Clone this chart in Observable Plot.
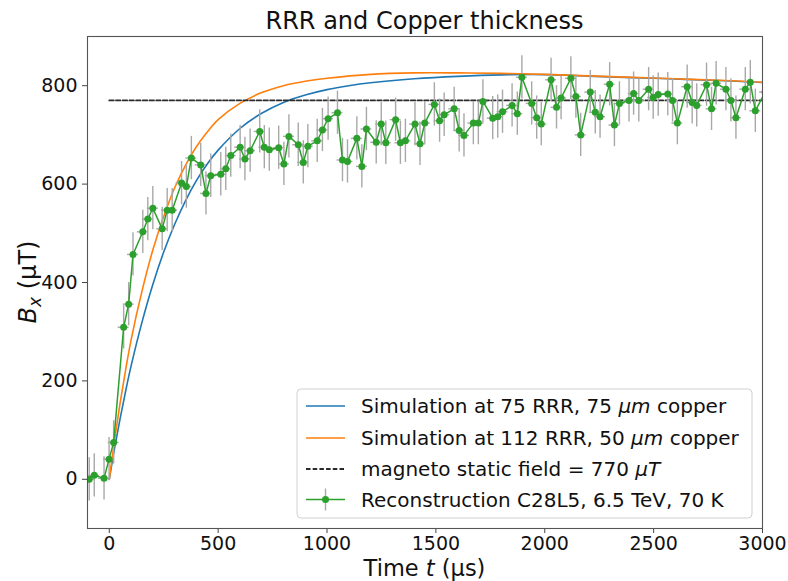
<!DOCTYPE html>
<html><head><meta charset="utf-8">
<script src="https://cdn.jsdelivr.net/npm/d3@7"></script>
<script src="https://cdn.jsdelivr.net/npm/@observablehq/plot@0.6"></script>
<style>body{margin:0;background:#fff} #chart svg{display:block}</style>
</head><body><div id="chart"></div>
<script>
// ---- data ----
const titleText = "RRR and Copper thickness";
const xTicks = [0, 500, 1000, 1500, 2000, 2500, 3000];
const yTicks = [0, 200, 400, 600, 800];

// Simulation at 75 RRR, 75 µm copper (blue)
const blueT = [0, 25, 50, 75, 100, 150, 200, 250, 300, 350, 400, 450, 500, 600, 700, 800, 900, 1000, 1100, 1200, 1400, 1600, 1800, 2000, 2200, 2400, 2600, 2800, 3000];
const blueV = [0, 65, 124, 179, 230, 319, 396, 462, 518, 566, 607, 641, 669, 713, 744, 766, 781, 792, 800, 806, 814, 819, 822, 822.5, 819.5, 816.5, 813.5, 810.5, 806.5];

// Simulation at 112 RRR, 50 µm copper (orange)
const orangeT = [0, 25, 50, 75, 100, 150, 200, 250, 300, 350, 400, 450, 500, 600, 700, 800, 900, 1000, 1200, 1400, 1600, 1800, 2000, 2200, 2400, 2600, 2800, 3000];
const orangeV = [0, 82, 156, 222, 283, 382, 466, 534, 592, 638, 676, 706, 731, 764, 786, 800, 809, 815, 823, 826, 826, 825, 823, 820, 817, 814, 811, 807];

// magneto static field
const staticField = 770;
const staticRange = [0, 3000];

// Reconstruction C28L5, 6.5 TeV, 70 K (green, with error bars)
const recoT = [-92, -69, -24, -1, 20, 66, 89, 109, 154, 177, 200, 243, 266, 289, 332, 354, 377, 420, 444, 466,
  512, 535, 558, 601, 623, 647, 691, 712, 735, 778, 802, 825, 868, 891, 912, 955, 979, 1005, 1048, 1071,
  1094, 1137, 1160, 1181, 1226, 1249, 1270, 1315, 1337, 1360, 1404, 1427, 1449, 1493, 1517, 1538, 1584, 1607, 1629, 1672,
  1695, 1716, 1761, 1784, 1806, 1850, 1874, 1895, 1940, 1963, 1984, 2029, 2054, 2075, 2120, 2143, 2165, 2209, 2232, 2254,
  2298, 2320, 2343, 2387, 2408, 2432, 2477, 2498, 2521, 2565, 2587, 2609, 2654, 2677, 2698, 2743, 2766, 2787, 2832, 2855,
  2878, 2921, 2944, 2967, 3012];
const recoV = [0, 8, 2, 41, 75, 309, 356, 457, 503, 529, 551, 509, 547, 547, 602, 595, 653, 639, 581, 617,
  620, 631, 658, 675, 651, 668, 707, 675, 670, 674, 641, 697, 680, 644, 677, 688, 710, 733, 745, 649,
  646, 693, 636, 712, 685, 722, 684, 731, 684, 688, 722, 682, 724, 762, 729, 741, 753, 709, 699, 724,
  724, 768, 734, 737, 747, 760, 743, 817, 764, 735, 722, 812, 756, 775, 815, 778, 700, 787, 746, 737,
  803, 720, 764, 770, 784, 770, 793, 776, 782, 783, 770, 724, 798, 766, 760, 802, 753, 805, 793, 770,
  735, 793, 807, 749, 787];
const recoErrV = 44;   // ± µT
const recoErrT = 25;   // ± µs

const legendLabels = [
  ["Simulation at 75 RRR, 75 ", ["µm", true], " copper"],
  ["Simulation at 112 RRR, 50 ", ["µm", true], " copper"],
  ["magneto static field = 770 ", ["µT", true]],
  ["Reconstruction C28L5, 6.5 TeV, 70 K"]
];

// ---- tables ----
const blue = blueT.map((t, i) => ({t, v: blueV[i]}));
const orange = orangeT.map((t, i) => ({t, v: orangeV[i]}));
const reco = recoT.map((t, i) => ({t, v: recoV[i]}));
const staticLine = staticRange.map(t => ({t, v: staticField}));

const C_BLUE = "#1f77b4", C_ORANGE = "#ff7f0e", C_GREEN = "#2ca02c", C_ERR = "#a8a8a8", C_DASH = "#2b2b2b";
const FONT = "'DejaVu Sans', sans-serif";

const chart = Plot.plot({
  width: 788, height: 581,
  marginLeft: 87, marginRight: 26, marginTop: 36, marginBottom: 53,
  style: {fontFamily: FONT, background: "#fff", overflow: "visible"},
  x: {domain: [-100, 3000]},
  y: {domain: [-100, 900]},
  marks: [
    Plot.axisX({ticks: xTicks, tickSize: 5, tickPadding: 3, fontSize: 19, stroke: "#444", fill: "#111", label: null, tickFormat: d3.format("d")}),
    Plot.axisY({ticks: yTicks, tickSize: 5, tickPadding: 5, fontSize: 19, stroke: "#444", fill: "#111", label: null, tickFormat: d3.format("d")}),
    Plot.line(blue, {x: "t", y: "v", stroke: C_BLUE, strokeWidth: 1.6, curve: "catmull-rom", clip: true}),
    Plot.line(orange, {x: "t", y: "v", stroke: C_ORANGE, strokeWidth: 1.6, curve: "catmull-rom", clip: true}),
    Plot.line(staticLine, {x: "t", y: "v", stroke: C_DASH, strokeWidth: 1.8, strokeDasharray: "4.5,2.2", clip: true}),
    Plot.ruleX(reco, {x: "t", y1: d => d.v - recoErrV, y2: d => d.v + recoErrV, stroke: C_ERR, strokeWidth: 1.4, clip: true}),
    Plot.ruleY(reco, {y: "v", x1: d => d.t - recoErrT, x2: d => d.t + recoErrT, stroke: C_ERR, strokeWidth: 1.4, clip: true}),
    Plot.line(reco, {x: "t", y: "v", stroke: C_GREEN, strokeWidth: 1.5, clip: true}),
    Plot.dot(reco, {x: "t", y: "v", r: 3.5, fill: C_GREEN, stroke: "none", clip: true}),
    Plot.frame({stroke: "#555", strokeWidth: 1.1})
  ]
});
document.getElementById("chart").appendChild(chart);

// ---- rich-text labels, title and legend ----
const svg = d3.select(chart);
const g = svg.append("g").attr("font-family", FONT).attr("fill", "#111").attr("text-anchor", "start");

g.append("text").attr("x", 424.5).attr("y", 29).attr("text-anchor", "middle")
  .attr("font-size", 24).text(titleText);

const xl = g.append("text").attr("x", 424.5).attr("y", 575.5).attr("text-anchor", "middle").attr("font-size", 22.5);
xl.append("tspan").text("Time ");
xl.append("tspan").attr("font-style", "italic").text("t");
xl.append("tspan").text(" (µs)");

const yl = g.append("text").attr("transform", "translate(36,282) rotate(-90)").attr("text-anchor", "middle").attr("font-size", 24);
yl.append("tspan").attr("font-style", "italic").text("B");
yl.append("tspan").attr("font-style", "italic").attr("font-size", 17).attr("dy", 5).text("x");
yl.append("tspan").attr("dy", -5).text(" (µT)");

// legend
const lg = g.append("g");
const L = {x0: 297, y0: 389, x1: 752, y1: 518};
lg.append("rect").attr("x", L.x0).attr("y", L.y0).attr("width", L.x1 - L.x0).attr("height", L.y1 - L.y0)
  .attr("rx", 4).attr("fill", "#fff").attr("fill-opacity", 0.85).attr("stroke", "#d0d0d0");
const rows = [406, 438, 469, 499.5];
const hx0 = 306, hx1 = 345, tx = 361;
lg.append("line").attr("x1", hx0).attr("x2", hx1).attr("y1", rows[0]).attr("y2", rows[0]).attr("stroke", C_BLUE).attr("stroke-width", 1.6);
lg.append("line").attr("x1", hx0).attr("x2", hx1).attr("y1", rows[1]).attr("y2", rows[1]).attr("stroke", C_ORANGE).attr("stroke-width", 1.6);
lg.append("line").attr("x1", hx0).attr("x2", hx1).attr("y1", rows[2]).attr("y2", rows[2]).attr("stroke", C_DASH).attr("stroke-width", 1.8).attr("stroke-dasharray", "4.5,2.2");
lg.append("line").attr("x1", hx0).attr("x2", hx1).attr("y1", rows[3]).attr("y2", rows[3]).attr("stroke", C_GREEN).attr("stroke-width", 1.5);
lg.append("line").attr("x1", (hx0 + hx1) / 2).attr("x2", (hx0 + hx1) / 2).attr("y1", rows[3] - 11).attr("y2", rows[3] + 11).attr("stroke", C_ERR).attr("stroke-width", 1.4);
lg.append("circle").attr("cx", (hx0 + hx1) / 2).attr("cy", rows[3]).attr("r", 3.5).attr("fill", C_GREEN);
legendLabels.forEach((parts, i) => {
  const t = lg.append("text").attr("x", tx).attr("y", rows[i]).attr("dy", "0.36em").attr("font-size", 20).attr("text-anchor", "start");
  parts.forEach(p => {
    if (Array.isArray(p)) t.append("tspan").attr("font-style", p[1] ? "italic" : null).text(p[0]);
    else t.append("tspan").text(p);
  });
});
</script>
</body></html>
